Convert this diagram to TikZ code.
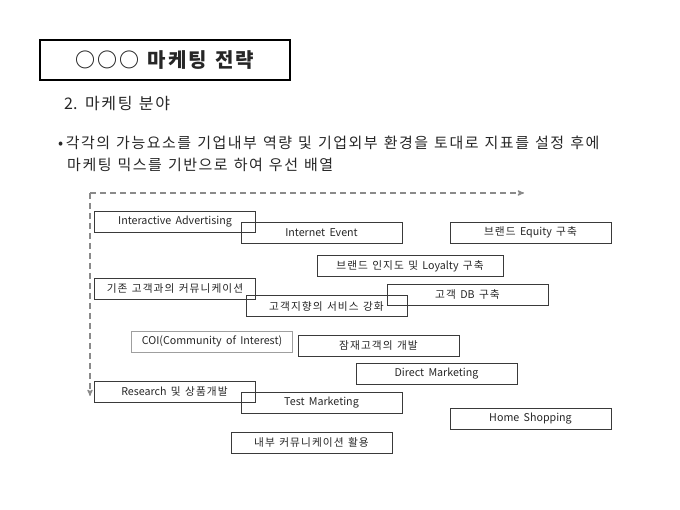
\documentclass[tikz,border=0pt]{standalone}
\usepackage{fontspec}
\setmainfont{Noto Sans CJK KR}[WordSpace=1.8]
\usetikzlibrary{arrows,positioning}
% wider pitch between hangul syllables
\XeTeXinterchartokenstate=1
\newXeTeXintercharclass\hangulclass
\count255="AC00
\loop \XeTeXcharclass\count255=\hangulclass
  \ifnum\count255<"D7A3 \advance\count255 by 1 \repeat
\XeTeXcharclass"25CB=\hangulclass
\XeTeXinterchartoks\hangulclass\hangulclass={\kern0.1em}
\definecolor{boxline}{HTML}{3A3A3A}
\definecolor{dashline}{HTML}{8A8A8A}
\tikzset{
plan/.style={x=1pt,y=-1pt,>=stealth',text=black!85},
item/.style={rectangle,draw=boxline,line width=0.8pt,minimum width=161pt,
    minimum height=21pt,inner sep=0pt,font=\fontsize{10.7}{12}\selectfont},
faint/.style={draw=gray!75},
titlebox/.style={rectangle,draw=black,line width=1.8pt,minimum width=250pt,
    minimum height=40pt,font=\fontsize{20}{24}\selectfont\bfseries},
axis/.style={->,dashed,dash pattern=on 6pt off 4pt,line width=1.2pt,draw=dashline},
}

\begin{document}
\begin{tikzpicture}[plan]
    \useasboundingbox (0,0) rectangle (680,510);

    \node[titlebox] (title) at (165,60) {○○○ 마케팅 전략};
    \node[anchor=west,inner sep=0pt,font=\fontsize{16}{19}\selectfont] (sub) at (64,104) {2. 마케팅 분야};
    \node[anchor=west,inner sep=0pt,font=\fontsize{15}{18}\selectfont] (line1) at (58,143)
        {\textbullet\,각각의 가능요소를 기업내부 역량 및 기업외부 환경을 토대로 지표를 설정 후에};
    \node[anchor=west,inner sep=0pt,font=\fontsize{15}{18}\selectfont] (line2) at (67,165)
        {마케팅 믹스를 기반으로 하여 우선 배열};

    \coordinate (corner) at (90,193);
    \coordinate (xend) at (524,193);
    \coordinate (yend) at (90,396);
    \draw[axis] (corner) -- (xend);
    \draw[axis] (corner) -- (yend);

    \node[item] (ia) at (175,221.5) {Interactive Advertising};
    \node[item] (ie) at (321.5,232.5) {Internet Event};
    \node[item] (eq) at (530.5,232.5) {브랜드 Equity 구축};
    \node[item,minimum width=186pt] (loy) at (410,266) {브랜드 인지도 및 Loyalty 구축};
    \node[item] (kc) at (175,288.5) {기존 고객과의 커뮤니케이션};
    \node[item] (db) at (467.5,294.5) {고객 DB 구축};
    \node[item] (sv) at (326.5,306) {고객지향의 서비스 강화};
    \node[item,faint] (coi) at (212,341.5) {COI(Community of Interest)};
    \node[item] (lat) at (378.5,345.5) {잠재고객의 개발};
    \node[item] (dm) at (436.5,374) {Direct Marketing};
    \node[item] (rs) at (174.5,391.5) {Research 및 상품개발};
    \node[item] (tm) at (321.5,402.5) {Test Marketing};
    \node[item] (hs) at (530.5,419) {Home Shopping};
    \node[item] (ic) at (311.5,442.5) {내부 커뮤니케이션 활용};
\end{tikzpicture}
\end{document}
